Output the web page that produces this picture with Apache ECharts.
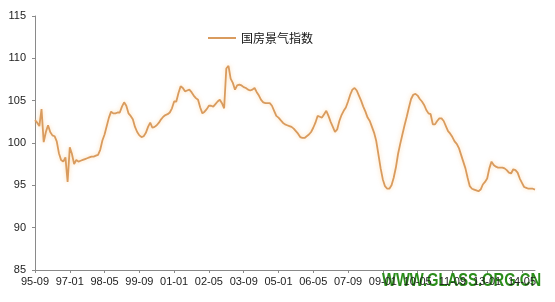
<!DOCTYPE html>
<html>
<head>
<meta charset="utf-8">
<script src="https://cdn.jsdelivr.net/npm/echarts@6/dist/echarts.min.js"></script>
<style>
html,body{margin:0;padding:0;background:#fff;}
#chart{width:555px;height:302px;}
</style>
</head>
<body>
<div id="chart"></div>
<script>
var seriesName = '国房景气指数';
var startYear = 1995, startMonth = 9;
var indexValues = [
102.7,102.4,102.0,104.0,100.1,101.3,102.1,101.3,100.9,100.8,
100.2,98.8,98.0,97.8,98.3,95.4,99.5,98.7,97.5,98.0,
97.8,97.9,98.0,98.1,98.2,98.3,98.4,98.4,98.5,98.6,
99.2,100.3,101.0,102.0,103.0,103.7,103.5,103.5,103.6,103.6,
104.3,104.8,104.4,103.5,103.2,102.8,101.9,101.3,100.9,100.7,
100.8,101.2,101.9,102.4,101.8,101.9,102.1,102.4,102.8,103.1,
103.3,103.4,103.6,104.1,104.9,104.9,105.9,106.7,106.5,106.1,
106.2,106.3,106.0,105.6,105.3,105.1,104.2,103.5,103.7,104.0,
104.4,104.4,104.3,104.6,104.9,105.1,104.7,104.1,108.8,109.1,
107.6,107.1,106.3,106.8,106.9,106.8,106.6,106.5,106.3,106.2,
106.3,106.5,106.0,105.6,105.1,104.8,104.7,104.7,104.7,104.4,
103.8,103.2,103.0,102.7,102.4,102.2,102.1,102.0,101.9,101.7,
101.4,101.1,100.7,100.6,100.6,100.8,101.0,101.3,101.8,102.4,
103.2,103.1,103.0,103.4,103.8,103.2,102.5,101.9,101.3,101.6,
102.6,103.3,103.8,104.2,104.9,105.7,106.3,106.5,106.2,105.6,
105.0,104.3,103.7,103.0,102.6,101.9,101.2,100.2,98.6,97.0,
95.7,94.9,94.6,94.6,95.0,95.9,97.1,98.7,99.9,101.0,
102.1,103.1,104.2,105.2,105.7,105.8,105.6,105.2,104.9,104.5,
103.9,103.5,103.4,102.2,102.2,102.6,102.9,102.9,102.6,102.0,
101.4,101.1,100.7,100.2,99.9,99.4,98.6,97.8,97.0,95.9,
94.9,94.6,94.5,94.4,94.3,94.5,95.1,95.4,95.8,97.0,
97.8,97.4,97.2,97.1,97.1,97.1,97.0,96.8,96.5,96.4,
96.9,96.8,96.5,95.8,95.3,94.8,94.7,94.6,94.6,94.6,
94.5
];
var yMin = 85, yMax = 115, yStep = 5;
var labelEvery = 16;
var watermark = 'WWW.GLASS.ORG.CN';

var categories = [];
(function(){
  var y = startYear, m = startMonth;
  for (var i = 0; i < indexValues.length; i++) {
    categories.push(String(y % 100).padStart(2,'0') + '-' + String(m).padStart(2,'0'));
    m++; if (m > 12) { m = 1; y++; }
  }
})();

var chart = echarts.init(document.getElementById('chart'), null, {renderer:'canvas'});
chart.setOption({
  backgroundColor: '#ffffff',
  animation: false,
  grid: {left: 35, right: 20, top: 16, bottom: 32, containLabel: false},
  legend: {
    left: 203, top: 27,
    icon: 'rect',
    itemWidth: 28, itemHeight: 2, itemGap: 3,
    textStyle: {fontFamily: 'Noto Sans CJK SC', fontSize: 12, color: '#111'},
    data: [seriesName]
  },
  xAxis: {
    type: 'category',
    data: categories,
    boundaryGap: false,
    axisLine: {lineStyle: {color: '#8a8a8a', width: 1}},
    axisTick: {show: true, interval: labelEvery - 1, length: 3, lineStyle: {color: '#8a8a8a'}},
    axisLabel: {interval: labelEvery - 1, margin: 6, fontFamily: 'Liberation Sans', fontSize: 11, color: '#222'},
    splitLine: {show: false}
  },
  yAxis: {
    type: 'value',
    min: yMin, max: yMax, interval: yStep,
    axisLine: {show: true, lineStyle: {color: '#8a8a8a', width: 1}},
    axisTick: {show: true, length: 3, lineStyle: {color: '#8a8a8a'}},
    axisLabel: {margin: 9, fontFamily: 'Liberation Sans', fontSize: 11, color: '#222'},
    splitLine: {show: false}
  },
  series: [{
    name: seriesName,
    type: 'line',
    data: indexValues,
    symbol: 'none',
    smooth: false,
    lineStyle: {color: '#d99b5e', width: 1.8, shadowColor: 'rgba(250,190,110,0.55)', shadowBlur: 4},
    itemStyle: {color: '#d99b5e'}
  }],
  graphic: [{
    type: 'text',
    x: 382, y: 272,
    scaleX: 0.82,
    style: {
      text: watermark,
      fontFamily: 'Liberation Sans',
      fontWeight: 'bold',
      fontSize: 18,
      fill: '#2a8d1a',
      textVerticalAlign: 'top'
    }
  }]
});
</script>
</body>
</html>
